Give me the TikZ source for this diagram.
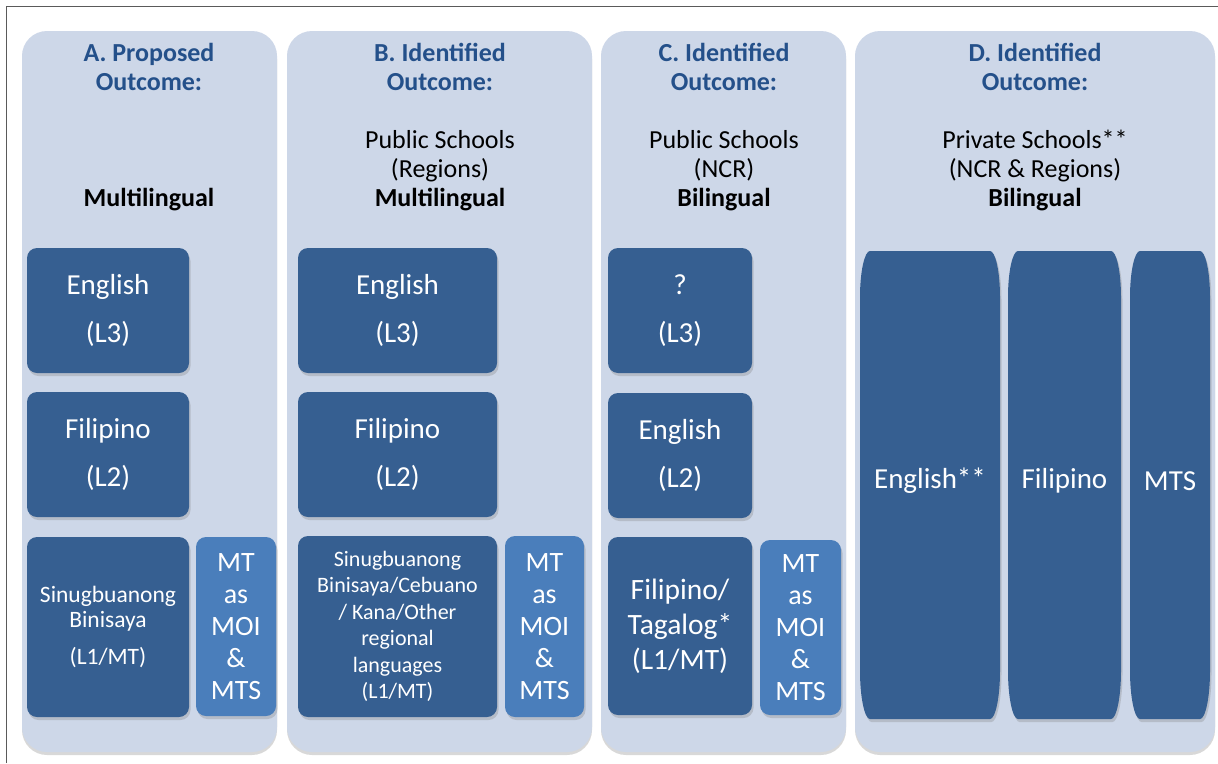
\documentclass[tikz,border=0pt]{standalone}
\usepackage{fontspec}
\setmainfont{Carlito}
\usetikzlibrary{shadows}
\definecolor{panelfill}{HTML}{CDD7E8}
\definecolor{boxdark}{HTML}{365F91}
\definecolor{boxlight}{HTML}{4A7EBB}
\definecolor{titleblue}{HTML}{24508A}
\definecolor{framegray}{HTML}{5A5A5A}
\newcommand{\fsz}[2]{\fontsize{#1}{#2}\selectfont}
\newcommand{\ttl}[1]{\textcolor{titleblue}{\textbf{#1}}}
\tikzset{
  panel/.style={fill=panelfill, rounded corners=25pt, inner sep=0pt,
    drop shadow={shadow xshift=0pt, shadow yshift=-3pt, opacity=0.3}},
  langbox/.style={fill=boxdark, rounded corners=10pt, text=white, align=center, inner sep=0pt,
    drop shadow={shadow xshift=1.5pt, shadow yshift=-3pt, opacity=0.3}},
  mtbox/.style={langbox, fill=boxlight},
  tallshape/.style={fill=boxdark, drop shadow={shadow xshift=1.5pt, shadow yshift=-3pt, opacity=0.3}},
  tlabel/.style={text=white, inner sep=0pt, font=\fsz{29}{35}},
  head/.style={align=center, anchor=north, inner sep=0pt, font=\fsz{26}{29}},
}
\newcommand{\tallbox}[4]{%
  \path[tallshape] ({#1+10},#2) -- ({#3-10},#2)
    .. controls ({#3-4.5},#2) and (#3,{#2+21}) .. (#3,{#2+46})
    -- (#3,{#4-48})
    .. controls (#3,{#4-22}) and ({#3-4.5},#4) .. ({#3-10},#4)
    -- ({#1+10},#4)
    .. controls ({#1+4.5},#4) and (#1,{#4-22}) .. (#1,{#4-48})
    -- (#1,{#2+46})
    .. controls (#1,{#2+21}) and ({#1+4.5},#2) .. cycle;}
\begin{document}
\begin{tikzpicture}[x=1pt, y=-1pt]
\useasboundingbox (0,0) rectangle (1218,763);
\fill[white] (0,0) rectangle (1218,763);
% frame
\draw[framegray, line width=1.3pt] (6.5,763) -- (6.5,6.5) -- (1218,6.5);
% panels
\node[panel, minimum width=255pt, minimum height=721pt] (pA) at (149.5,391.5) {};
\node[panel, minimum width=305pt, minimum height=721pt] (pB) at (439.5,391.5) {};
\node[panel, minimum width=245pt, minimum height=721pt] (pC) at (723.5,391.5) {};
\node[panel, minimum width=360pt, minimum height=721pt] (pD) at (1035,391.5) {};
% headers
\node[head] (hA) at (149,43.5) {\ttl{A. Proposed}\\\ttl{Outcome:}\\[87pt]\textbf{Multilingual}};
\node[head] (hB) at (440,43.5) {\ttl{B. Identified}\\\ttl{Outcome:}\\[29pt]Public Schools\\(Regions)\\\textbf{Multilingual}};
\node[head] (hC) at (724,43.5) {\ttl{C. Identified}\\\ttl{Outcome:}\\[29pt]Public Schools\\(NCR)\\\textbf{Bilingual}};
\node[head] (hD) at (1035,43.5) {\ttl{D. Identified}\\\ttl{Outcome:}\\[29pt]Private Schools**\\(NCR \& Regions)\\\textbf{Bilingual}};
% column A
\node[langbox, minimum width=162pt, minimum height=125pt, font=\fsz{29}{48}] (aL3) at (108,310.5) {English\\(L3)};
\node[langbox, minimum width=162pt, minimum height=125pt, font=\fsz{29}{48}] (aL2) at (108,454.5) {Filipino\\(L2)};
\node[langbox, minimum width=162pt, minimum height=180pt, font=\fsz{23.5}{25}] (aL1) at (108,627) {Sinugbuanong\\Binisaya\\[12pt](L1/MT)};
\node[mtbox, minimum width=80pt, minimum height=179pt, font=\fsz{28}{32}] (aMT) at (236,626.5) {MT\\as\\MOI\\\&\\MTS};
% column B
\node[langbox, minimum width=199pt, minimum height=125pt, font=\fsz{29}{48}] (bL3) at (397.5,310.5) {English\\(L3)};
\node[langbox, minimum width=199pt, minimum height=125pt, font=\fsz{29}{48}] (bL2) at (397.5,454.5) {Filipino\\(L2)};
\node[langbox, minimum width=199pt, minimum height=181pt, font=\fsz{22}{26.5}] (bL1) at (397.5,626.5) {Sinugbuanong\\Binisaya/Cebuano\\/ Kana/Other\\regional\\languages\\(L1/MT)};
\node[mtbox, minimum width=79pt, minimum height=181pt, font=\fsz{28}{32}] (bMT) at (544.5,626.5) {MT\\as\\MOI\\\&\\MTS};
% column C
\node[langbox, minimum width=144pt, minimum height=125pt, font=\fsz{29}{48}] (cL3) at (680,310.5) {?\\(L3)};
\node[langbox, minimum width=144pt, minimum height=125pt, font=\fsz{29}{48}] (cL2) at (680,455.5) {English\\(L2)};
\node[langbox, minimum width=144pt, minimum height=178pt, font=\fsz{29.5}{35}] (cL1) at (680,626) {Filipino/\\Tagalog*\\(L1/MT)};
\node[mtbox, minimum width=81pt, minimum height=175pt, font=\fsz{28}{32}] (cMT) at (800.5,627.5) {MT\\as\\MOI\\\&\\MTS};
% column D
\tallbox{860}{251}{1000}{719}
\tallbox{1008}{251}{1121}{719}
\tallbox{1130}{251}{1210}{719}
\node[tlabel] (dEng) at (930,481) {English**};
\node[tlabel] (dFil) at (1064.5,481) {Filipino};
\node[tlabel] (dMTS) at (1170,481) {MTS};
\end{tikzpicture}
\end{document}
